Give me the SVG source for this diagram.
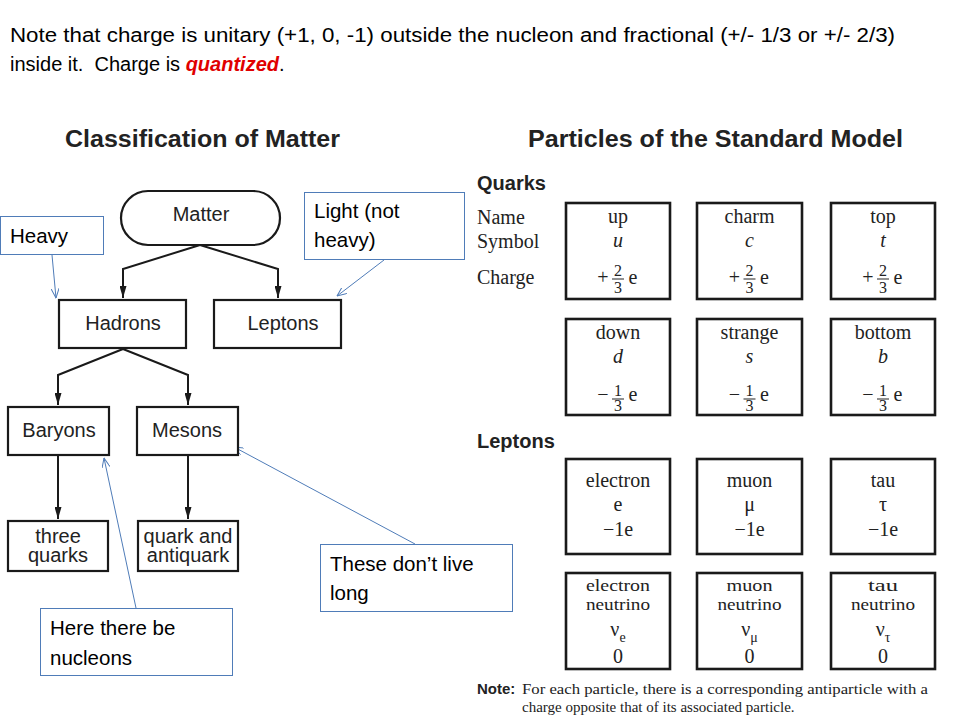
<svg xmlns="http://www.w3.org/2000/svg" width="960" height="720" viewBox="0 0 960 720">
<defs>
<style>
.bg{fill:#fff}
.top{font-family:"Liberation Sans",Arial,sans-serif;font-size:20px;fill:#000}
.h1{font-family:"Liberation Sans",Arial,sans-serif;font-size:23px;font-weight:bold;fill:#222}
.h2{font-family:"Liberation Sans",Arial,sans-serif;font-size:20px;font-weight:bold;fill:#222}
.node{fill:#fff;stroke:#1a1a1a;stroke-width:2.2}
.nt{font-family:"Liberation Sans",Arial,sans-serif;font-size:20px;fill:#222;text-anchor:middle}
.call{fill:#fff;stroke:#4f7cb8;stroke-width:1}
.ct{font-family:"Liberation Sans",Arial,sans-serif;font-size:20.5px;fill:#000}
.conn{fill:none;stroke:#1a1a1a;stroke-width:2;marker-end:url(#ah)}
.cl{fill:none;stroke:#4f7cb8;stroke-width:1;marker-end:url(#oh)}
.cell{fill:#fff;stroke:#1a1a1a;stroke-width:2.6}
.s{font-family:"Liberation Serif","Times New Roman",serif;font-size:20px;fill:#222}
.sc{font-family:"Liberation Serif","Times New Roman",serif;font-size:20px;fill:#222;text-anchor:middle}
.sn{font-family:"Liberation Serif","Times New Roman",serif;font-size:17.5px;fill:#222;text-anchor:middle}
.si{font-style:italic}
.fr{font-family:"Liberation Serif","Times New Roman",serif;font-size:16px;fill:#222;text-anchor:middle}
.bar{stroke:#222;stroke-width:1}
.note{font-family:"Liberation Serif","Times New Roman",serif;font-size:15px;fill:#222}
.noteb{font-family:"Liberation Sans",Arial,sans-serif;font-size:15px;font-weight:bold;fill:#222}
</style>
<marker id="ah" viewBox="0 0 12 7" refX="12" refY="3.5" markerWidth="12" markerHeight="7" markerUnits="userSpaceOnUse" orient="auto">
<path d="M0,0 L12,3.5 L0,7 z" fill="#1a1a1a"/>
</marker>
<marker id="oh" viewBox="0 0 10 8" refX="9.5" refY="4" markerWidth="10" markerHeight="8" markerUnits="userSpaceOnUse" orient="auto">
<path d="M0,0 L9.5,4 L0,8" fill="none" stroke="#4f7cb8" stroke-width="1"/>
</marker>
</defs>
<rect class="bg" x="0" y="0" width="960" height="720"/>

<g id="header">
<text class="top" x="10" y="42" textLength="885" lengthAdjust="spacingAndGlyphs">Note that charge is unitary (+1, 0, -1) outside the nucleon and fractional (+/- 1/3 or +/- 2/3)</text>
<text class="top" x="10" y="71" xml:space="preserve">inside it.  Charge is <tspan fill="#e00000" font-weight="bold" font-style="italic">quantized</tspan>.</text>
</g>

<g id="titles">
<text class="h1" x="65" y="147" textLength="275" lengthAdjust="spacingAndGlyphs">Classification of Matter</text>
<text class="h1" x="528" y="147" textLength="375" lengthAdjust="spacingAndGlyphs">Particles of the Standard Model</text>
</g>

<g id="connectors">
<polyline class="conn" points="200,245 123,269 123,298"/>
<polyline class="conn" points="200,245 278,269 278,298"/>
<polyline class="conn" points="123,349 58,375 58,405"/>
<polyline class="conn" points="123,349 188,375 188,405"/>
<polyline class="conn" points="58,456 58,519"/>
<polyline class="conn" points="188,456 188,519"/>
<line class="cl" x1="52" y1="255" x2="56" y2="298"/>
<line class="cl" x1="384" y1="260" x2="337" y2="296"/>
<line class="cl" x1="415" y1="544" x2="234" y2="447"/>
<line class="cl" x1="136" y1="608" x2="104" y2="458"/>
</g>

<g id="matter">
<rect class="node" x="121" y="191" width="159" height="54" rx="27"/>
<text class="nt" x="201" y="221">Matter</text>
</g>
<g id="hadrons">
<rect class="node" x="59" y="300" width="127" height="48"/>
<text class="nt" x="123" y="330">Hadrons</text>
</g>
<g id="leptons">
<rect class="node" x="214" y="300" width="127" height="48"/>
<text class="nt" x="283" y="330">Leptons</text>
</g>
<g id="baryons">
<rect class="node" x="8" y="407" width="101" height="48"/>
<text class="nt" x="59" y="437">Baryons</text>
</g>
<g id="mesons">
<rect class="node" x="137" y="407" width="101" height="48"/>
<text class="nt" x="187" y="437">Mesons</text>
</g>
<g id="three-quarks">
<rect class="node" x="8" y="521" width="100" height="50"/>
<text class="nt" x="58" y="543">three</text>
<text class="nt" x="58" y="562">quarks</text>
</g>
<g id="quark-antiquark">
<rect class="node" x="138" y="521" width="100" height="50"/>
<text class="nt" x="188" y="543">quark and</text>
<text class="nt" x="188" y="562">antiquark</text>
</g>

<g id="callout-heavy">
<rect class="call" x="0.5" y="216.5" width="103" height="38"/>
<text class="ct" x="10" y="243">Heavy</text>
</g>
<g id="callout-light">
<rect class="call" x="304.5" y="192.5" width="160" height="67"/>
<text class="ct" x="314" y="218">Light (not</text>
<text class="ct" x="314" y="247">heavy)</text>
</g>
<g id="callout-short">
<rect class="call" x="320.5" y="544.5" width="192" height="67"/>
<text class="ct" x="330" y="571">These don’t live</text>
<text class="ct" x="330" y="600">long</text>
</g>
<g id="callout-nucleons">
<rect class="call" x="40.5" y="608.5" width="192" height="67"/>
<text class="ct" x="50" y="635">Here there be</text>
<text class="ct" x="50" y="665">nucleons</text>
</g>

<g id="quarks-heading">
<text class="h2" x="477" y="190">Quarks</text>
<text class="s" x="477" y="224">Name</text>
<text class="s" x="477" y="248">Symbol</text>
<text class="s" x="477" y="284">Charge</text>
</g>

<g id="q-up">
<rect class="cell" x="566" y="203" width="104" height="96"/>
<text class="sc" x="618" y="223">up</text>
<text class="sc si" x="618" y="247">u</text>
<text class="sc" x="603" y="284">+</text>
<text class="fr" x="618" y="276">2</text><line class="bar" x1="612" y1="279" x2="624" y2="279"/><text class="fr" x="618" y="293">3</text>
<text class="sc" x="633" y="284">e</text>
</g>
<g id="q-charm">
<rect class="cell" x="697" y="203" width="105" height="96"/>
<text class="sc" x="749.5" y="223">charm</text>
<text class="sc si" x="749.5" y="247">c</text>
<text class="sc" x="734.5" y="284">+</text>
<text class="fr" x="749.5" y="276">2</text><line class="bar" x1="743.5" y1="279" x2="755.5" y2="279"/><text class="fr" x="749.5" y="293">3</text>
<text class="sc" x="764.5" y="284">e</text>
</g>
<g id="q-top">
<rect class="cell" x="831" y="203" width="104" height="96"/>
<text class="sc" x="883" y="223">top</text>
<text class="sc si" x="883" y="247">t</text>
<text class="sc" x="868" y="284">+</text>
<text class="fr" x="883" y="276">2</text><line class="bar" x1="877" y1="279" x2="889" y2="279"/><text class="fr" x="883" y="293">3</text>
<text class="sc" x="898" y="284">e</text>
</g>

<g id="q-down">
<rect class="cell" x="566" y="319" width="104" height="96"/>
<text class="sc" x="618" y="339">down</text>
<text class="sc si" x="618" y="363">d</text>
<text class="sc" x="603" y="401">−</text>
<text class="fr" x="618" y="396">1</text><line class="bar" x1="612" y1="399" x2="624" y2="399"/><text class="fr" x="618" y="411">3</text>
<text class="sc" x="633" y="401">e</text>
</g>
<g id="q-strange">
<rect class="cell" x="697" y="319" width="105" height="96"/>
<text class="sc" x="749.5" y="339">strange</text>
<text class="sc si" x="749.5" y="363">s</text>
<text class="sc" x="734.5" y="401">−</text>
<text class="fr" x="749.5" y="396">1</text><line class="bar" x1="743.5" y1="399" x2="755.5" y2="399"/><text class="fr" x="749.5" y="411">3</text>
<text class="sc" x="764.5" y="401">e</text>
</g>
<g id="q-bottom">
<rect class="cell" x="831" y="319" width="104" height="96"/>
<text class="sc" x="883" y="339">bottom</text>
<text class="sc si" x="883" y="363">b</text>
<text class="sc" x="868" y="401">−</text>
<text class="fr" x="883" y="396">1</text><line class="bar" x1="877" y1="399" x2="889" y2="399"/><text class="fr" x="883" y="411">3</text>
<text class="sc" x="898" y="401">e</text>
</g>

<g id="leptons-heading">
<text class="h2" x="477" y="448">Leptons</text>
</g>

<g id="l-electron">
<rect class="cell" x="566" y="459" width="104" height="95"/>
<text class="sc" x="618" y="487">electron</text>
<text class="sc" x="618" y="511">e</text>
<text class="sc" x="618" y="536">−1e</text>
</g>
<g id="l-muon">
<rect class="cell" x="697" y="459" width="105" height="95"/>
<text class="sc" x="749.5" y="487">muon</text>
<text class="sc" x="749.5" y="511">μ</text>
<text class="sc" x="749.5" y="536">−1e</text>
</g>
<g id="l-tau">
<rect class="cell" x="831" y="459" width="104" height="95"/>
<text class="sc" x="883" y="487">tau</text>
<text class="sc" x="883" y="511">τ</text>
<text class="sc" x="883" y="536">−1e</text>
</g>

<g id="l-enu">
<rect class="cell" x="566" y="573" width="104" height="96"/>
<text class="sn" x="618" y="590.5" textLength="64" lengthAdjust="spacingAndGlyphs">electron</text>
<text class="sn" x="618" y="610" textLength="64" lengthAdjust="spacingAndGlyphs">neutrino</text>
<text class="sc" x="618" y="636">ν<tspan font-size="14" dy="6">e</tspan></text>
<text class="sc" x="618" y="663">0</text>
</g>
<g id="l-munu">
<rect class="cell" x="697" y="573" width="105" height="96"/>
<text class="sn" x="749.5" y="590.5" textLength="46" lengthAdjust="spacingAndGlyphs">muon</text>
<text class="sn" x="749.5" y="610" textLength="64" lengthAdjust="spacingAndGlyphs">neutrino</text>
<text class="sc" x="749.5" y="636">ν<tspan font-size="14" dy="6">μ</tspan></text>
<text class="sc" x="749.5" y="663">0</text>
</g>
<g id="l-taunu">
<rect class="cell" x="831" y="573" width="104" height="96"/>
<text class="sn" x="883" y="590.5" textLength="30" lengthAdjust="spacingAndGlyphs">tau</text>
<text class="sn" x="883" y="610" textLength="64" lengthAdjust="spacingAndGlyphs">neutrino</text>
<text class="sc" x="883" y="636">ν<tspan font-size="14" dy="6">τ</tspan></text>
<text class="sc" x="883" y="663">0</text>
</g>

<g id="note">
<text class="noteb" x="477" y="694">Note:</text>
<text class="note" x="522" y="694" textLength="406" lengthAdjust="spacingAndGlyphs">For each particle, there is a corresponding antiparticle with a</text>
<text class="note" x="522" y="712">charge opposite that of its associated particle.</text>
</g>
</svg>
